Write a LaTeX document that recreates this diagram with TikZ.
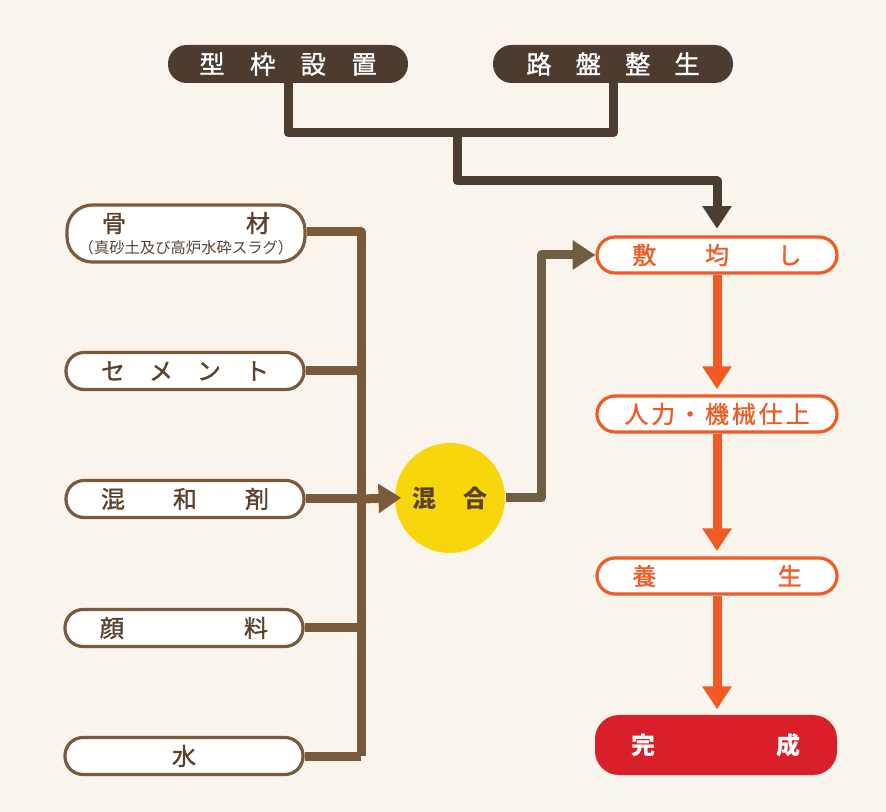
\documentclass[tikz,border=0pt]{standalone}
\usepackage{fontspec}
\setmainfont{Noto Sans CJK JP}
\newfontfamily\jpmed[FakeBold=1.2]{Noto Sans CJK JP}
\usetikzlibrary{arrows.meta}

\definecolor{bgcream}{HTML}{FAF5EC}
\definecolor{topbrown}{HTML}{4E3B2F}
\definecolor{lnbrown}{HTML}{4C3D31}
\definecolor{leftbrown}{HTML}{7A5A3B}
\definecolor{txtbrown}{HTML}{5A412E}
\definecolor{mixbrown}{HTML}{6E5E44}
\definecolor{orng}{HTML}{F05A24}
\definecolor{kanred}{HTML}{D9202A}
\definecolor{mixyellow}{HTML}{F7D60C}

\newcommand{\sprd}[2]{\makebox[#1][s]{#2}}

\tikzset{every picture/.style={line width=0.75pt}}
\tikzset{
  pilltop/.style={fill=topbrown, draw=none, text=white, rounded corners=14pt,
    minimum width=180pt, minimum height=28.5pt, inner sep=0pt,
    font=\jpmed\fontsize{19}{22}\selectfont},
  pillleft/.style={fill=white, draw=leftbrown, line width=2.4pt, text=txtbrown,
    rounded corners=13.5pt, minimum width=178.5pt, minimum height=27.75pt,
    inner sep=0pt, font=\jpmed\fontsize{18}{21}\selectfont},
  pillorng/.style={fill=white, draw=orng, line width=2.4pt, text=orng,
    rounded corners=13.5pt, minimum width=180pt, minimum height=27pt,
    inner sep=0pt, font=\jpmed\fontsize{18}{21}\selectfont},
  pillred/.style={fill=kanred, draw=none, text=white, rounded corners=18pt,
    minimum width=181.5pt, minimum height=45pt, inner sep=0pt,
    font=\fontsize{18}{21}\selectfont\bfseries},
  mixdot/.style={circle, fill=mixyellow, draw=none, minimum size=82.5pt,
    inner sep=0pt, text=txtbrown, font=\fontsize{18}{21}\selectfont\bfseries},
  lntop/.style={draw=lnbrown, line width=6.75pt, line join=round},
  lnleft/.style={draw=leftbrown, line width=6.75pt, line join=round},
  lnmix/.style={draw=mixbrown, line width=6.75pt, line join=round},
  lnorng/.style={draw=orng, line width=6.75pt},
  brtip/.style={-{Triangle[width=21pt,length=17pt]}},
}

\begin{document}
\begin{tikzpicture}[x=0.75pt,y=0.75pt,yscale=-1,xscale=1]
% background
\fill[bgcream] (0,0) rectangle (886,812);
\useasboundingbox (0,0) rectangle (886,812);

% Top nodes
\node[pilltop] (kata) at (288,64) {\sprd{133pt}{型\hfill 枠\hfill 設\hfill 置}};
\node[pilltop] (roban) at (613,64) {\sprd{130pt}{路\hfill 盤\hfill 整\hfill 生}};

% Left nodes
\node[pillleft, minimum height=42.75pt, rounded corners=19pt, align=center] (kotsu) at (186,233.5)
  {\sprd{126pt}{骨\hfill 材}\\[-5pt]{\rmfamily\fontsize{11.5}{13}\selectfont （真砂土及び高炉水砕スラグ）}};
\node[pillleft] (cement) at (185,371) {\sprd{126pt}{セ\hfill メ\hfill ン\hfill ト}};
\node[pillleft] (konwa) at (185,499) {\sprd{126pt}{混\hfill 和\hfill 剤}};
\node[pillleft] (ganryo) at (184,628) {\sprd{126pt}{顔\hfill 料}};
\node[pillleft] (mizu) at (184,756) {水};

% Mix node
\node[mixdot] (mix) at (450,498) {\sprd{57pt}{混\hfill 合}};

% Right nodes
\node[pillorng] (shiki) at (717,255) {\sprd{127pt}{敷\hfill 均\hfill し}};
\node[pillorng] (jinriki) at (717,414) {\sprd{139pt}{人\hfill 力\hfill ・\hfill 機\hfill 械\hfill 仕\hfill 上}};
\node[pillorng] (yojo) at (717,576) {\sprd{127pt}{養\hfill 生}};
\node[pillred] (kansei) at (716,745) {\sprd{127pt}{完\hfill 成}};

% Top connectors
\coordinate (tj) at (457,133);
\draw[lntop] (kata.south) -- (kata.south |- tj) -| (roban.south);
\draw[lntop, brtip, shorten >=5pt] (tj) -- ++(0,48) -| (shiki.north);

% Material bus
\coordinate (bus) at (361,0);
\draw[lnleft] (kotsu.east |- 0,232) -- (bus |- 0,232) -- (bus |- mizu.east);
\foreach \m in {cement, konwa, ganryo, mizu}
  \draw[lnleft] (\m.east) -- (\m.east -| bus);
\draw[lnleft, brtip, shorten >=-5pt] (konwa.east -| bus) -- (mix.west);

% Mix to spreading
\draw[lnmix, brtip] (mix.east) -- ++(36,0) |- (shiki.west);

% Work flow
\draw[lnorng, brtip, shorten >=4pt] (shiki.south) -- (jinriki.north);
\draw[lnorng, brtip, shorten >=4pt] (jinriki.south) -- (yojo.north);
\draw[lnorng, brtip, shorten >=4pt] (yojo.south) -- (yojo.south |- kansei.north);

\end{tikzpicture}
\end{document}
